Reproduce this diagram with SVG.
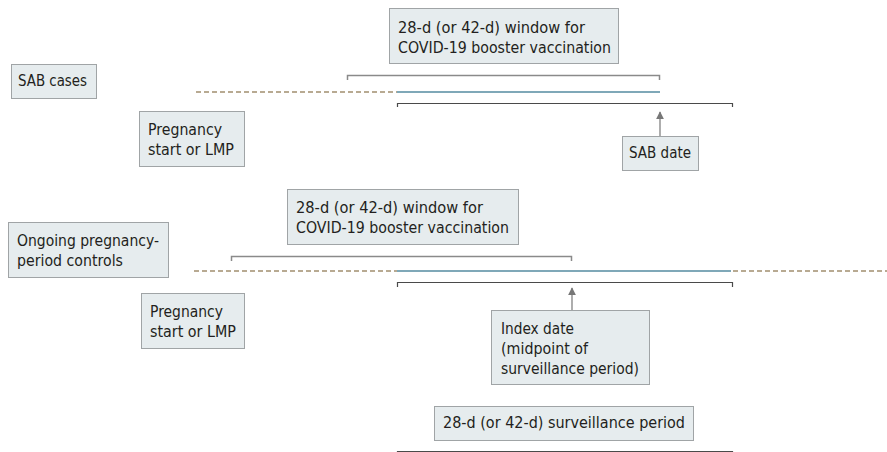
<svg xmlns="http://www.w3.org/2000/svg" width="887" height="452" viewBox="0 0 887 452">
<style>
.box{fill:#e6ecee;stroke:#a0a4a6;stroke-width:1}
.t{font-family:"DejaVu Sans","Liberation Sans",Arial,sans-serif;font-size:15px;fill:#231f20}
.br1{fill:none;stroke:#8a8a8a;stroke-width:1.5}
.br2{fill:none;stroke:#4a4a4a;stroke-width:1.2}
.dash{stroke:#b8aa92;stroke-width:1.8;stroke-dasharray:5 3;fill:none}
.blue{stroke:#7fa8b8;stroke-width:2;fill:none}
.arr{stroke:#777;stroke-width:1.2;fill:none}
</style>
<defs>
<marker id="ah" viewBox="0 0 10 10" refX="9" refY="5" markerWidth="8" markerHeight="8" markerUnits="userSpaceOnUse" orient="auto">
<path d="M0,0 L10,5 L0,10 z" fill="#777"/>
</marker>
</defs>
<g id="connectors">
<path class="br1" d="M347.5,80 V75.5 H659.5 V80"/>
<line class="dash" x1="196" y1="92" x2="397" y2="92"/>
<line class="blue" x1="397" y1="92" x2="660" y2="92"/>
<path class="br2" d="M397.5,107 V103.5 H732.5 V107"/>
<line class="arr" x1="660" y1="136" x2="660" y2="112" marker-end="url(#ah)"/>
<path class="br1" d="M231.5,261 V256.5 H571.5 V261"/>
<line class="dash" x1="194" y1="271" x2="397" y2="271"/>
<line class="blue" x1="397" y1="271" x2="731" y2="271"/>
<line class="dash" x1="733" y1="271" x2="887" y2="271"/>
<path class="br2" d="M397.5,287 V282.5 H732.5 V287"/>
<line class="arr" x1="572" y1="310" x2="572" y2="288" marker-end="url(#ah)"/>
<path class="br2" d="M397.5,455 V451.5 H732.5 V455"/>
</g>
<g id="window1">
<rect class="box" x="389.5" y="8.5" width="229" height="55"/>
<text class="t" x="398" y="33" textLength="187" lengthAdjust="spacingAndGlyphs">28-d (or 42-d) window for</text>
<text class="t" x="398" y="53" textLength="213" lengthAdjust="spacingAndGlyphs">COVID-19 booster vaccination</text>
</g>
<g id="sabcases">
<rect class="box" x="11.5" y="64.5" width="85" height="34"/>
<text class="t" x="18" y="86" textLength="69" lengthAdjust="spacingAndGlyphs">SAB cases</text>
</g>
<g id="preg1">
<rect class="box" x="139.5" y="111.5" width="105" height="55"/>
<text class="t" x="148" y="135" textLength="74" lengthAdjust="spacingAndGlyphs">Pregnancy</text>
<text class="t" x="148" y="155" textLength="86" lengthAdjust="spacingAndGlyphs">start or LMP</text>
</g>
<g id="sabdate">
<rect class="box" x="622.5" y="136.5" width="76" height="34"/>
<text class="t" x="629" y="158" textLength="62" lengthAdjust="spacingAndGlyphs">SAB date</text>
</g>
<g id="window2">
<rect class="box" x="287.5" y="189.5" width="231" height="55"/>
<text class="t" x="296" y="213" textLength="187" lengthAdjust="spacingAndGlyphs">28-d (or 42-d) window for</text>
<text class="t" x="296" y="233" textLength="213" lengthAdjust="spacingAndGlyphs">COVID-19 booster vaccination</text>
</g>
<g id="ongoing">
<rect class="box" x="8.5" y="222.5" width="160" height="55"/>
<text class="t" x="17" y="246" textLength="142" lengthAdjust="spacingAndGlyphs">Ongoing pregnancy-</text>
<text class="t" x="17" y="266" textLength="106" lengthAdjust="spacingAndGlyphs">period controls</text>
</g>
<g id="preg2">
<rect class="box" x="141.5" y="293.5" width="103" height="55"/>
<text class="t" x="150" y="317" textLength="73" lengthAdjust="spacingAndGlyphs">Pregnancy</text>
<text class="t" x="150" y="337" textLength="86" lengthAdjust="spacingAndGlyphs">start or LMP</text>
</g>
<g id="indexdate">
<rect class="box" x="491.5" y="310.5" width="158" height="74"/>
<text class="t" x="501" y="334" textLength="73" lengthAdjust="spacingAndGlyphs">Index date</text>
<text class="t" x="501" y="354" textLength="87" lengthAdjust="spacingAndGlyphs">(midpoint of</text>
<text class="t" x="501" y="374" textLength="138" lengthAdjust="spacingAndGlyphs">surveillance period)</text>
</g>
<g id="surveillance">
<rect class="box" x="434.5" y="406.5" width="259" height="34"/>
<text class="t" x="443" y="428" textLength="242" lengthAdjust="spacingAndGlyphs">28-d (or 42-d) surveillance period</text>
</g>
</svg>
